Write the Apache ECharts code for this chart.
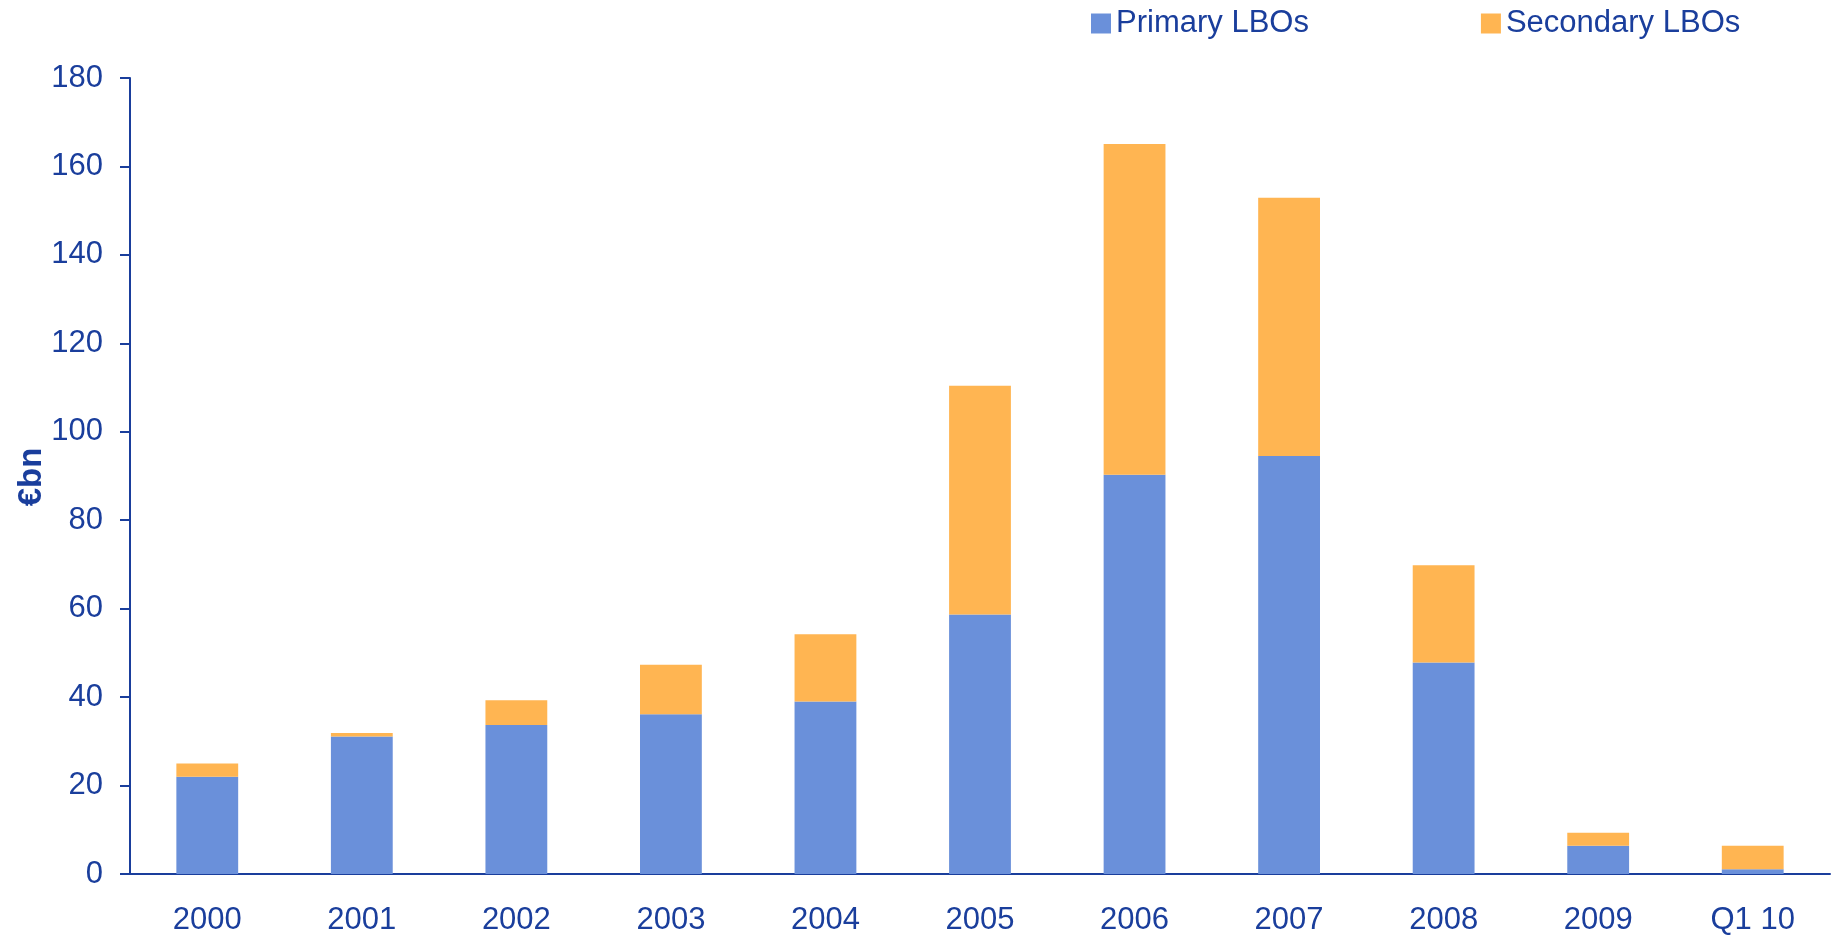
<!DOCTYPE html>
<html>
<head>
<meta charset="utf-8">
<script src="https://cdn.jsdelivr.net/npm/echarts@6/dist/echarts.min.js"></script>
<style>
  html, body { margin: 0; padding: 0; background: #fff; }
  #chart { width: 1839px; height: 937px; }
</style>
</head>
<body>
<div id="chart"></div>
<script>
// categories and values (€bn)
const years = ['2000', '2001', '2002', '2003', '2004', '2005', '2006', '2007', '2008', '2009', 'Q1 10'];
const primaryLBOs = [22.0, 31.1, 33.7, 36.1, 39.0, 58.7, 90.3, 94.5, 47.8, 6.4, 1.1];
const secondaryLBOs = [3.0, 0.8, 5.6, 11.2, 15.2, 51.7, 74.8, 58.4, 22.0, 2.9, 5.3];

const navy = '#1a3e9c';
const font = 'Liberation Sans, Arial, sans-serif';

const chart = echarts.init(document.getElementById('chart'));
chart.setOption({
  animation: false,
  textStyle: { fontFamily: font, color: navy },
  legend: {
    left: 1086,
    top: 3,
    itemWidth: 20,
    itemHeight: 20,
    itemGap: 172,
    icon: 'rect',
    textStyle: { fontSize: 31, color: navy, fontFamily: font },
    data: ['Primary LBOs', 'Secondary LBOs']
  },
  // axis title, rotated
  graphic: [{
    type: 'text',
    x: 32,
    y: 477,
    rotation: Math.PI / 2,
    style: {
      text: '€bn',
      align: 'center',
      verticalAlign: 'middle',
      font: 'bold 33px Liberation Sans, Arial, sans-serif',
      fill: navy
    }
  }],
  grid: { left: 130, right: 9, top: 78, bottom: 63 },
  xAxis: {
    type: 'category',
    data: years,
    axisLine: { lineStyle: { color: navy, width: 2 } },
    axisTick: { lineStyle: { color: navy, width: 2 }, length: 11 },
    axisLabel: { fontSize: 31, color: navy, margin: 31, fontFamily: font }
  },
  yAxis: {
    type: 'value',
    min: 0,
    max: 180,
    interval: 20,
    splitLine: { show: false },
    axisLine: { show: true, lineStyle: { color: navy, width: 2 } },
    axisTick: { show: true, lineStyle: { color: navy, width: 2 }, length: 10 },
    axisLabel: { fontSize: 31, color: navy, margin: 27, fontFamily: font }
  },
  series: [
    {
      name: 'Primary LBOs',
      type: 'bar',
      stack: 'lbo',
      barWidth: '40%',
      itemStyle: { color: '#6a90da' },
      data: primaryLBOs
    },
    {
      name: 'Secondary LBOs',
      type: 'bar',
      stack: 'lbo',
      barWidth: '40%',
      itemStyle: { color: '#ffb552' },
      data: secondaryLBOs
    }
  ]
});
</script>
</body>
</html>
